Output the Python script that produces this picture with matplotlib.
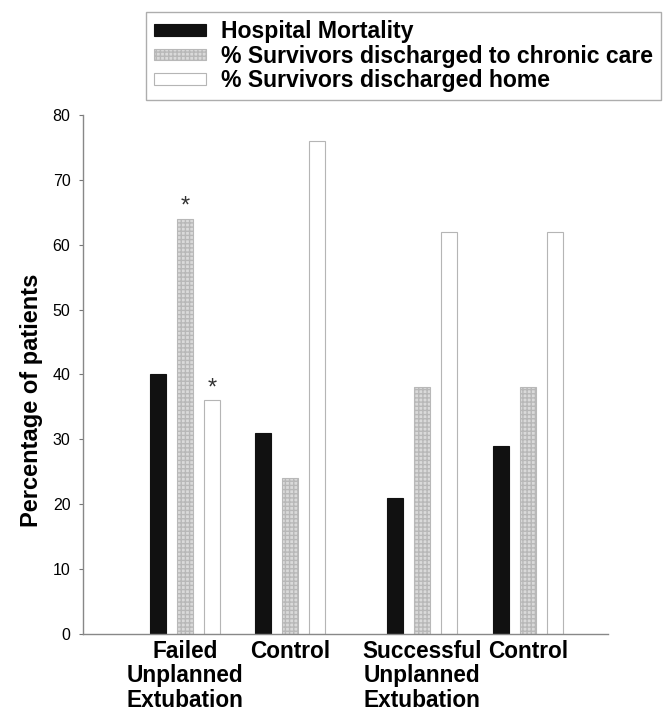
import matplotlib.pyplot as plt
import numpy as np

plt.rcParams['font.family'] = ['Liberation Sans', 'DejaVu Sans']

groups = ['Failed\nUnplanned\nExtubation', 'Control',
          'Successful\nUnplanned\nExtubation', 'Control']
mortality = [40, 31, 21, 29]
chronic_care = [64, 24, 38, 38]
home = [36, 76, 62, 62]
series_names = ['Hospital Mortality',
                '% Survivors discharged to chronic care',
                '% Survivors discharged home']
# significance markers: (group index, series index)
stars = [(0, 1), (0, 2)]

# layout (not data): group centres in bar-pitch units
group_pos = np.array([3.78, 7.67, 12.56, 16.48])
offsets = [-1.0, 0.0, 1.0]
bar_w = 0.6

fig = plt.figure(figsize=(6.65, 7.13), dpi=100)
ax = fig.add_axes([0.1248, 0.1108, 0.7895, 0.728])

styles = [
    dict(color='#111111', edgecolor='#111111'),
    dict(color='#dadada', edgecolor='#b8b8b8', hatch='++++'),
    dict(color='white', edgecolor='#b5b5b5'),
]
all_series = [mortality, chronic_care, home]
bars = []
for vals, off, st in zip(all_series, offsets, styles):
    b = ax.bar(group_pos + off, vals, width=bar_w, linewidth=0.8, **st)
    bars.append(b)

for gi, si in stars:
    ax.text(group_pos[gi] + offsets[si], all_series[si][gi] + 0.2, '*',
            ha='center', va='bottom', fontsize=17, color='#333333')

ax.set_xlim(0, 19.44)
ax.set_ylim(0, 80)
ax.set_yticks(range(0, 81, 10))
ax.set_xticks(group_pos)
ax.set_xticklabels(groups, fontsize=16.3, fontweight='bold', linespacing=1.1)
ax.tick_params(axis='x', length=0, pad=4)
ax.tick_params(axis='y', length=3, pad=6, labelsize=11.5, color='#777777')
ax.set_ylabel('Percentage of patients', fontsize=17, fontweight='bold',
              labelpad=7)
ax.yaxis.label.set_y(0.45)

for s in ['top', 'right']:
    ax.spines[s].set_visible(False)
for s in ['left', 'bottom']:
    ax.spines[s].set_color('#888888')
    ax.spines[s].set_linewidth(1.0)

leg = fig.legend([b[0] for b in bars], series_names,
                 loc='upper left', bbox_to_anchor=(146 / 665, 1 - 12 / 713),
                 prop={'weight': 'bold', 'size': 16.6},
                 frameon=True, fancybox=False, edgecolor='#999999',
                 handlelength=2.25, handleheight=0.4, labelspacing=0.07,
                 handletextpad=0.65, borderpad=0.35, borderaxespad=0)
leg.get_frame().set_linewidth(1.0)

fig.savefig('out.png', dpi=100)
